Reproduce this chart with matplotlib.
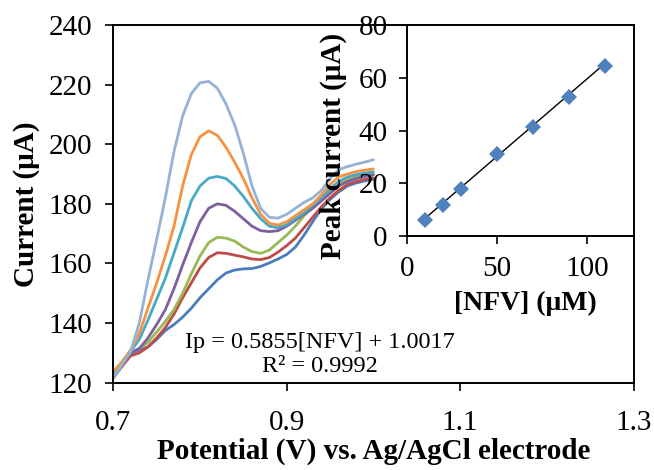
import matplotlib
matplotlib.use('Agg')
import matplotlib.pyplot as plt

plt.rcParams['font.family'] = ['Liberation Serif', 'DejaVu Serif']

# potential axis (V) shared by all DPV curves
potential = [0.70, 0.71, 0.72, 0.73, 0.74, 0.75, 0.76, 0.77, 0.78, 0.79, 0.80,
             0.81, 0.82, 0.83, 0.84, 0.85, 0.86, 0.87, 0.88, 0.89, 0.90,
             0.91, 0.92, 0.93, 0.94, 0.95, 0.96, 0.97, 0.98, 0.99, 1.00]

# currents (uA), lowest concentration first
cur_1 = [121.5, 125.5, 129.5, 131.0, 132.0, 134.5, 137.5, 139.5, 142.0, 145.0, 148.5,
         151.5, 154.5, 156.8, 157.8, 158.2, 158.3, 159.0, 160.2, 161.5, 163.0,
         165.5, 169.5, 174.0, 178.3, 181.5, 184.0, 186.0, 187.0, 187.7, 188.2]
cur_2 = [122.0, 125.5, 129.0, 130.0, 132.0, 135.0, 138.5, 143.0, 148.5, 153.5, 158.5,
         162.0, 163.6, 163.4, 162.8, 162.2, 161.5, 161.3, 162.0, 163.8, 166.0,
         168.5, 172.0, 175.5, 179.0, 182.0, 184.5, 186.5, 187.5, 188.2, 188.7]
cur_3 = [122.0, 126.0, 130.0, 131.5, 133.5, 137.0, 140.5, 144.5, 150.0, 156.5, 162.5,
         167.0, 168.8, 168.5, 167.5, 165.5, 164.0, 163.4, 164.5, 167.0, 169.5,
         172.5, 176.0, 179.0, 182.0, 184.5, 186.5, 188.0, 189.0, 189.5, 190.0]
cur_4 = [122.0, 126.0, 130.0, 131.5, 135.0, 139.5, 144.5, 151.5, 159.5, 167.0, 174.0,
         178.5, 180.0, 179.5, 177.5, 175.0, 172.5, 171.0, 170.7, 171.0, 172.5,
         174.5, 176.5, 178.5, 181.0, 183.5, 186.0, 187.5, 188.5, 189.2, 189.7]
cur_5 = [122.5, 126.5, 130.5, 134.5, 141.0, 148.0, 155.0, 163.5, 172.0, 181.0, 186.0,
         188.6, 189.2, 188.5, 186.0, 182.5, 178.5, 175.0, 172.5, 172.0, 173.0,
         175.0, 177.0, 179.5, 182.0, 185.0, 187.5, 189.0, 189.8, 190.3, 190.7]
cur_6 = [123.7, 127.0, 131.0, 136.5, 145.0, 153.4, 162.5, 172.5, 186.0, 196.5, 202.5,
         204.5, 203.0, 199.0, 194.0, 188.5, 182.0, 176.5, 173.5, 172.9, 174.0,
         176.0, 178.0, 180.0, 183.0, 186.5, 189.0, 190.0, 190.8, 191.3, 191.7]
cur_7 = [121.5, 126.0, 130.5, 140.0, 154.5, 168.0, 182.0, 197.5, 209.5, 217.0, 220.6,
         221.1, 218.8, 213.5, 206.5, 197.0, 186.0, 178.5, 175.5, 175.2, 176.5,
         178.5, 180.5, 182.0, 184.5, 188.5, 191.5, 192.5, 193.3, 194.0, 194.8]
curves = [cur_1, cur_2, cur_3, cur_4, cur_5, cur_6, cur_7]
colors = ['#4A7EBB', '#BE4B48', '#98B954', '#7D60A0', '#46AAC5', '#F69240', '#94B3D6']

# calibration (inset)
nfv_conc = [10, 20, 30, 50, 70, 90, 110]
peak_current = [6.1, 11.9, 17.9, 31.3, 41.3, 52.9, 64.6]
slope = 0.5855
intercept = 1.0017

fig = plt.figure(figsize=(6.54, 4.70), dpi=100)
ax = fig.add_axes([0.1732, 0.1857, 0.7955, 0.7611])
for c, col in zip(curves, colors):
    ax.plot(potential, c, color=col, lw=2.0, solid_capstyle='round', solid_joinstyle='round')
ax.set_xlim(0.7, 1.3)
ax.set_ylim(120, 240)
ax.set_xticks([0.7, 0.9, 1.1, 1.3])
ax.set_xticklabels(['0.7', '0.9', '1.1', '1.3'])
ax.set_yticks(range(120, 241, 20))
ax.tick_params(direction='out', length=6, width=1.2, labelsize=21, pad=9)
ax.tick_params(axis='x', pad=14)
for s in ax.spines.values():
    s.set_linewidth(1.4)
ax.set_xlabel('Potential (V) vs. Ag/AgCl electrode', fontsize=21, fontweight='bold')
ax.set_ylabel('Current (μA)', fontsize=21, fontweight='bold')
ax.xaxis.set_label_coords(0.5, -0.155)
ax.yaxis.set_label_coords(-0.14, 0.5)
ax.text(0.397, 0.079, 'Ip = 0.5855[NFV] + 1.0017\nR² = 0.9992', transform=ax.transAxes,
        ha='center', va='center', fontsize=17.5, linespacing=1.2)

ins = fig.add_axes([0.6228, 0.4972, 0.3459, 0.4496])
fit_x = [nfv_conc[0], nfv_conc[-1]]
ins.plot(fit_x, [slope * x + intercept for x in fit_x], color='black', lw=1.0)
ins.plot(nfv_conc, peak_current, 'D', color='#4F81BD', markersize=8, markeredgewidth=0)
ins.set_xlim(0, 126)
ins.set_ylim(0, 80)
ins.set_xticks([0, 50, 100])
ins.set_yticks(range(0, 81, 20))
ins.tick_params(direction='out', length=6, width=1.2, labelsize=21, pad=8)
for s in ins.spines.values():
    s.set_linewidth(1.4)
ins.set_xlabel('[NFV] (μM)', fontsize=20, fontweight='bold')
ins.set_ylabel('Peak current (μA)', fontsize=21, fontweight='bold')
ins.xaxis.set_label_coords(0.52, -0.26)
ins.yaxis.set_label_coords(-0.265, 0.43)

fig.savefig('out.png', dpi=100)
